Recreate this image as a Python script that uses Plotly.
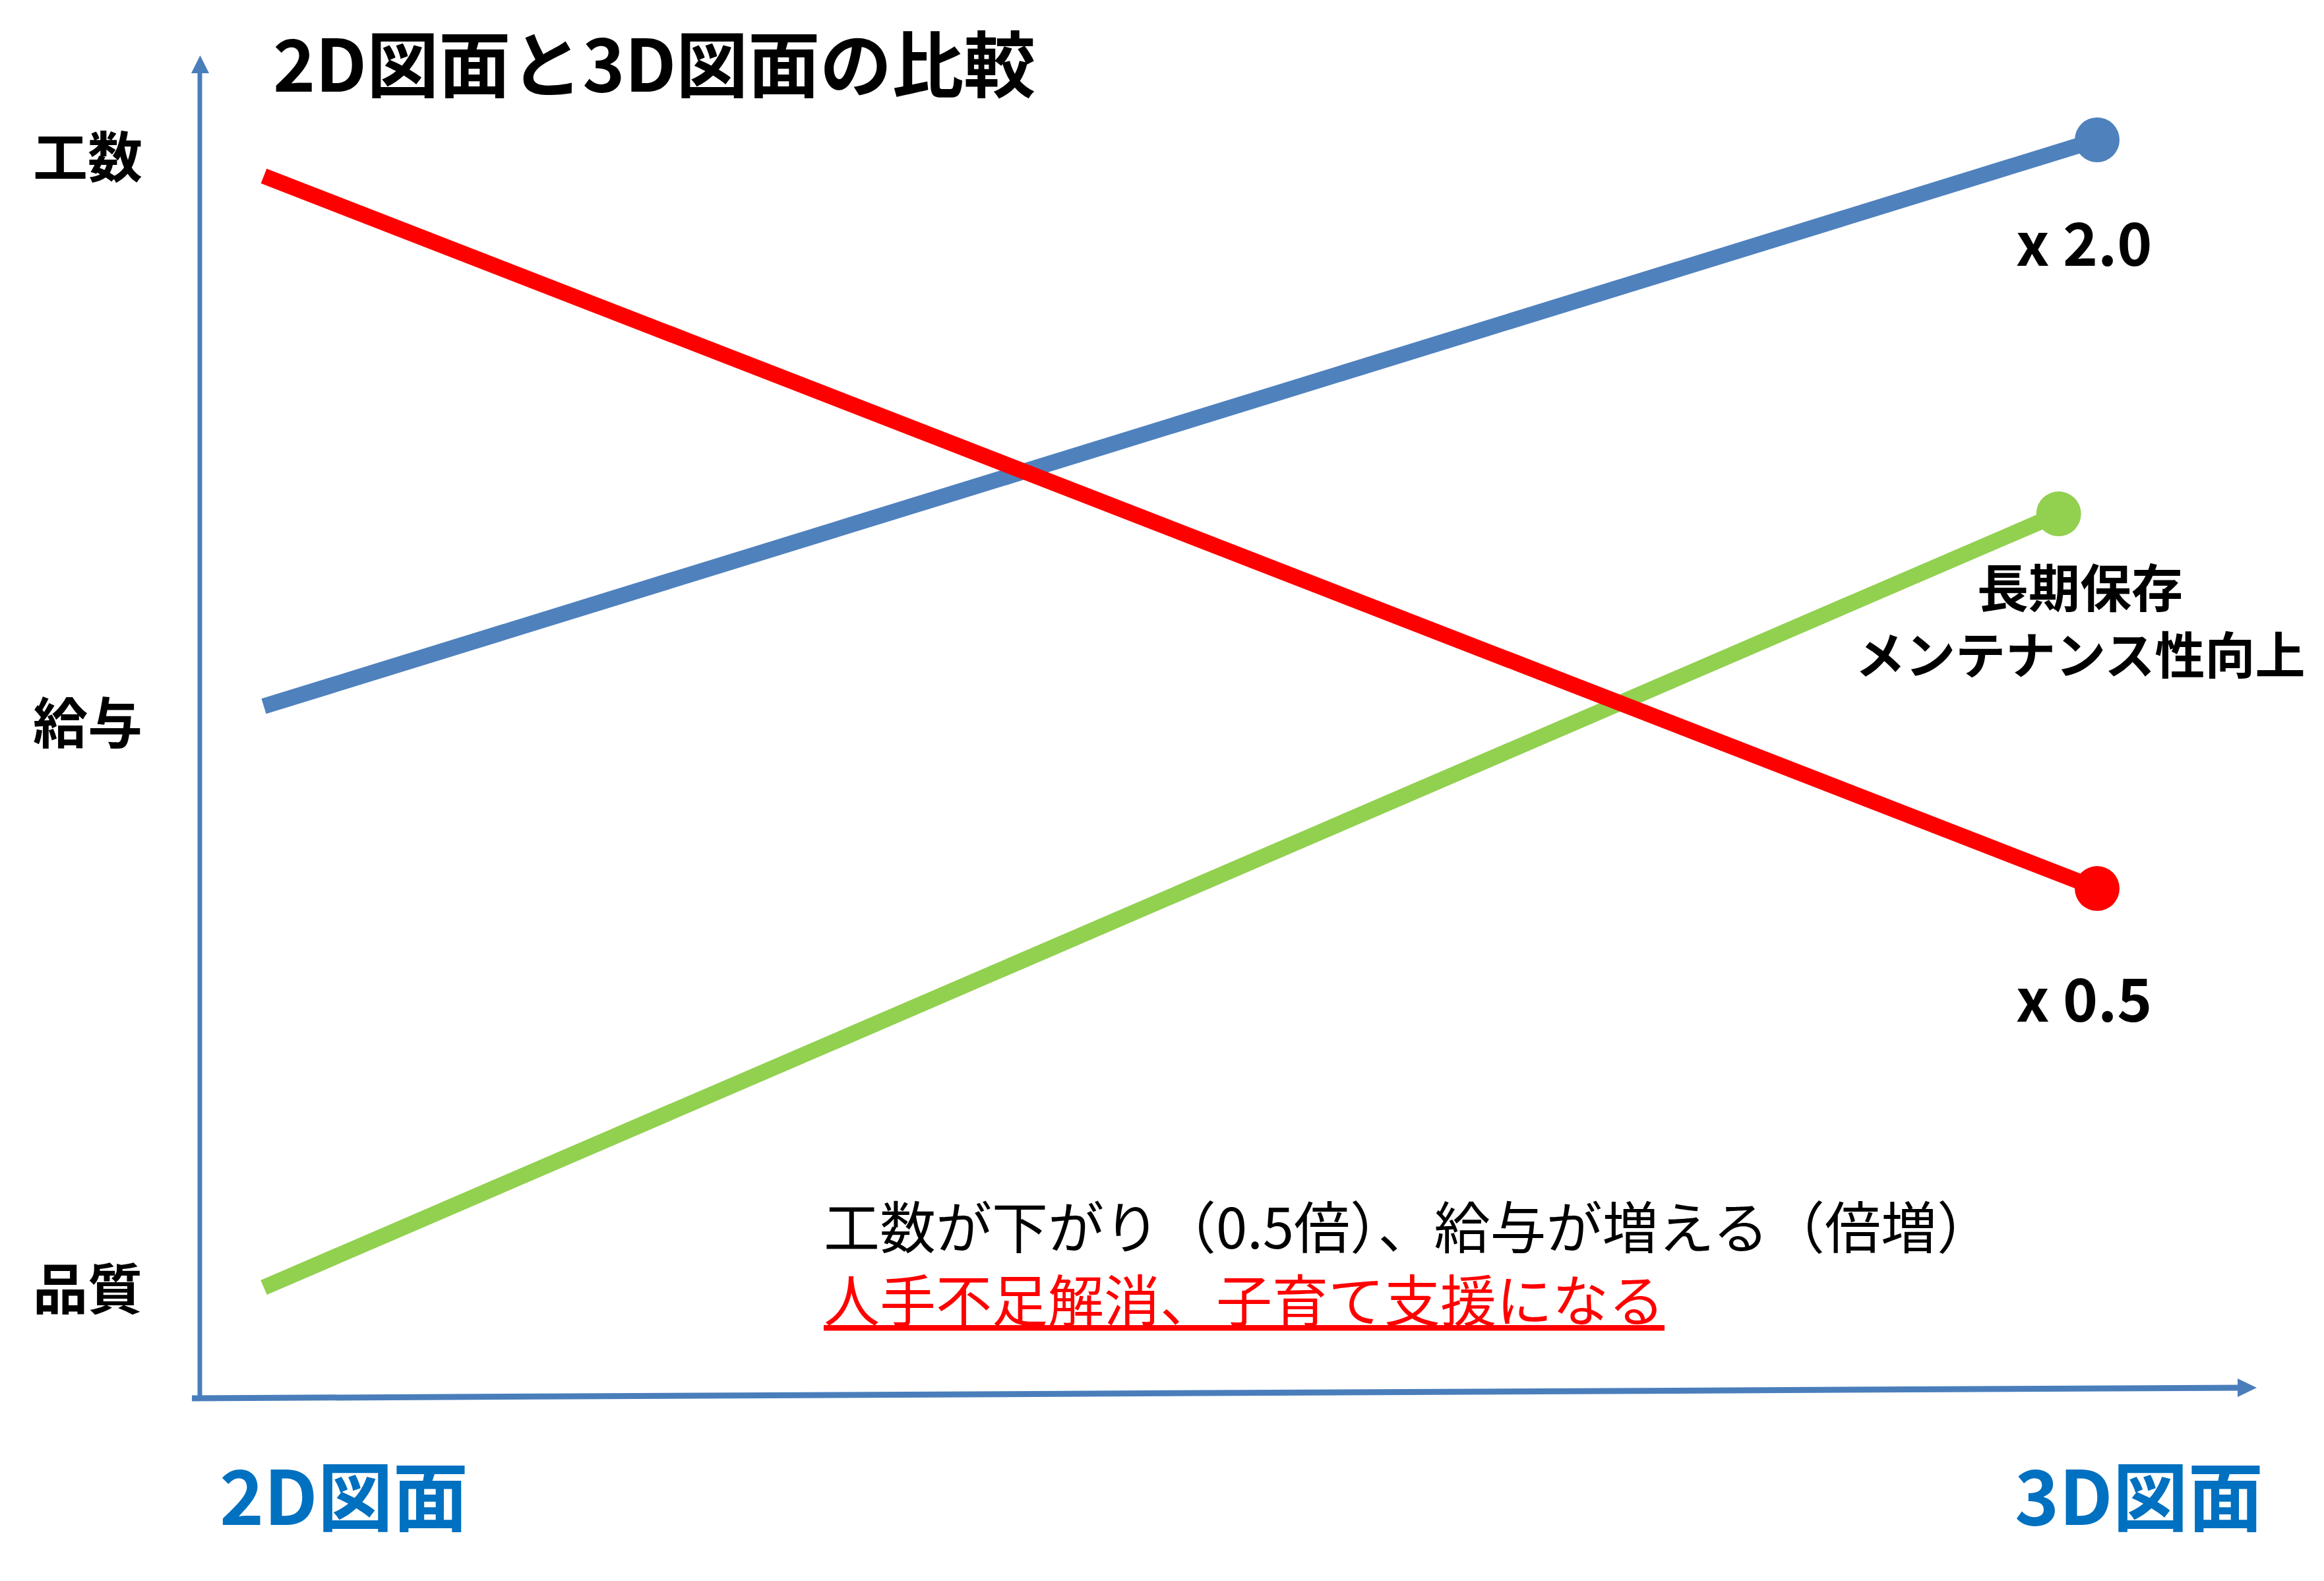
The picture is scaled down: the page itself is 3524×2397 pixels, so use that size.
import plotly.graph_objects as go

# ---------------- data ----------------
categories = ["2D図面", "3D図面"]
y_tick_vals = [0, 1, 2]
y_tick_text = ["品質", "給与", "工数"]

x_kousu = [0, 1]
kousu = [1.964, 0.705]          # red: 工数 (x0.5)
x_kyuyo = [0, 1]
kyuyo = [1.027, 2.028]          # blue: 給与 (x2.0)
x_hinshitsu = [0, 0.979]
hinshitsu = [0.0, 1.367]        # green: 品質 (長期保存...)

end_labels = ["x 2.0", "x 0.5", "長期保存", "メンテナンス性向上"]
title_text = "2D図面と3D図面の比較"
note_line1 = "工数が下がり（0.5倍）、給与が増える（倍増）"
note_line2 = "人手不足解消、子育て支援になる"

# ---------------- layout constants ----------------
W, H = 3524, 2397
FONT = "Noto Sans CJK JP"
BLUE = "#4F81BD"
RED = "#FF0000"
GREEN = "#92D050"
AXIS = "#4A7EBB"
LABEL_BLUE = "#0070C0"


def PX(x):
    return x / W


def PY(y):
    return 1 - y / H


fig = go.Figure()


def add_series(xs, ys, color):
    fig.add_trace(go.Scatter(
        x=xs, y=ys, mode="lines",
        line=dict(color=color, width=24),
        hoverinfo="skip", showlegend=False))
    fig.add_trace(go.Scatter(
        x=[xs[-1]], y=[ys[-1]], mode="markers",
        marker=dict(color=color, size=68, line=dict(width=0)),
        hoverinfo="skip", showlegend=False))


add_series(x_kyuyo, kyuyo, BLUE)
add_series(x_hinshitsu, hinshitsu, GREEN)
add_series(x_kousu, kousu, RED)

annotations = []
# y "tick" labels
for v, t in zip(y_tick_vals, y_tick_text):
    annotations.append(dict(
        x=PX(133), xref="paper", y=v, yref="y", text=t, showarrow=False,
        xanchor="center", yanchor="middle", yshift=3,
        font=dict(family=FONT, size=83, color="black", weight="bold")))

# x category labels
annotations.append(dict(
    x=PX(331), xref="paper", y=PY(2262), yref="paper", text=categories[0],
    showarrow=False, xanchor="left", yanchor="middle",
    font=dict(family=FONT, size=114, color=LABEL_BLUE, weight="bold")))
annotations.append(dict(
    x=PX(3434), xref="paper", y=PY(2262), yref="paper", text=categories[1],
    showarrow=False, xanchor="right", yanchor="middle",
    font=dict(family=FONT, size=114, color=LABEL_BLUE, weight="bold")))

# title
annotations.append(dict(
    x=PX(412), xref="paper", y=PY(92), yref="paper", text=title_text,
    showarrow=False, xanchor="left", yanchor="middle",
    font=dict(family=FONT, size=109, color="black", weight="bold")))

# end labels
annotations.append(dict(
    x=x_kyuyo[-1], y=kyuyo[-1], xref="x", yref="y", text=end_labels[0],
    showarrow=False, xanchor="center", yanchor="middle", xshift=-20, yshift=-152,
    font=dict(family=FONT, size=90, color="black", weight="bold")))
annotations.append(dict(
    x=x_kousu[-1], y=kousu[-1], xref="x", yref="y", text=end_labels[1],
    showarrow=False, xanchor="center", yanchor="middle", xshift=-20, yshift=-163,
    font=dict(family=FONT, size=90, color="black", weight="bold")))
annotations.append(dict(
    x=x_hinshitsu[-1], y=hinshitsu[-1], xref="x", yref="y", text=end_labels[2],
    showarrow=False, xanchor="center", yanchor="middle", xshift=32, yshift=-108,
    font=dict(family=FONT, size=78, color="black", weight="bold")))
annotations.append(dict(
    x=x_hinshitsu[-1], y=hinshitsu[-1], xref="x", yref="y", text=end_labels[3],
    showarrow=False, xanchor="center", yanchor="middle", xshift=32, yshift=-210,
    font=dict(family=FONT, size=76, color="black", weight="bold")))

# bottom notes
annotations.append(dict(
    x=PX(1247), xref="paper", y=PY(1855), yref="paper", text=note_line1,
    showarrow=False, xanchor="left", yanchor="middle",
    font=dict(family=FONT, size=85, color="black")))
annotations.append(dict(
    x=PX(1247), xref="paper", y=PY(1966), yref="paper", text="<u>" + note_line2 + "</u>",
    showarrow=False, xanchor="left", yanchor="middle",
    font=dict(family=FONT, size=85, color=RED)))

shapes = [
    # y axis
    dict(type="line", xref="paper", yref="paper",
         x0=PX(303), y0=PY(2124), x1=PX(303), y1=PY(106),
         line=dict(color=AXIS, width=7)),
    dict(type="path", xref="paper", yref="paper",
         path=f"M{PX(303.5)},{PY(84)} L{PX(290)},{PY(111)} L{PX(317)},{PY(111)} Z",
         fillcolor=AXIS, line=dict(width=0)),
    # x axis
    dict(type="line", xref="paper", yref="paper",
         x0=PX(291), y0=PY(2120), x1=PX(3396), y1=PY(2104),
         line=dict(color=AXIS, width=9)),
    dict(type="path", xref="paper", yref="paper",
         path=f"M{PX(3422)},{PY(2104)} L{PX(3393)},{PY(2090)} L{PX(3393)},{PY(2118)} Z",
         fillcolor=AXIS, line=dict(width=0)),
]

# axis ranges: x=0 at 400px, x=1 at 3180px; y=0 at 1952px, y=2 at 236px
xpu = 3180 - 400
ypu = (1952 - 236) / 2
x_range = [-400 / xpu, (W - 400) / xpu]
y_range = [-(H - 1952) / ypu, 2 + 236 / ypu]

fig.update_layout(
    width=W, height=H, autosize=False,
    margin=dict(l=0, r=0, t=0, b=0, pad=0),
    paper_bgcolor="white", plot_bgcolor="white",
    xaxis=dict(range=x_range, visible=False, fixedrange=True),
    yaxis=dict(range=y_range, visible=False, fixedrange=True),
    annotations=annotations, shapes=shapes,
    showlegend=False,
)

fig.write_html("out.html")
